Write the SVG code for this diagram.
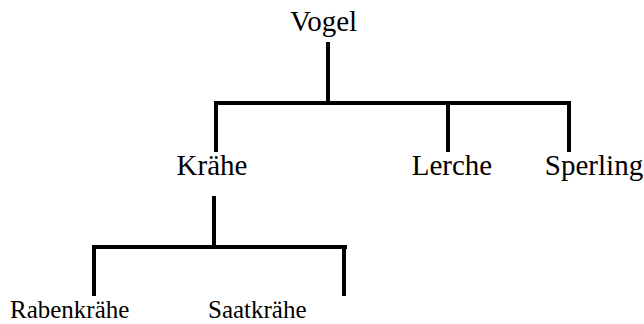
<svg xmlns="http://www.w3.org/2000/svg" width="644" height="324" viewBox="0 0 644 324">
<style>
.t{font-family:'Liberation Serif','Times New Roman','DejaVu Serif',serif;fill:#000}
.big{font-size:29px}
.small{font-size:25px}
.c line{stroke:#000;stroke-width:4;stroke-linecap:square}
</style>
<rect width="644" height="324" fill="#fff"/>
<g class="c" id="connectors">
<line x1="328" y1="44" x2="328" y2="103"/>
<line x1="216" y1="103" x2="569" y2="103"/>
<line x1="216" y1="103" x2="216" y2="150"/>
<line x1="448" y1="103" x2="448" y2="150"/>
<line x1="569" y1="103" x2="569" y2="150"/>
<line x1="214" y1="198" x2="214" y2="247"/>
<line x1="94" y1="247" x2="345" y2="247"/>
<line x1="94" y1="247" x2="94" y2="294"/>
<line x1="344" y1="247" x2="344" y2="294"/>
</g>
<g id="vogel"><text class="t big" x="323.5" y="31" text-anchor="middle">Vogel</text></g>
<g id="kraehe"><text class="t big" x="212" y="175" text-anchor="middle">Krähe</text></g>
<g id="lerche"><text class="t big" x="452" y="175" text-anchor="middle">Lerche</text></g>
<g id="sperling"><text class="t big" x="594" y="175" text-anchor="middle">Sperling</text></g>
<g id="rabenkraehe"><text class="t small" x="10" y="318">Rabenkrähe</text></g>
<g id="saatkraehe"><text class="t small" x="208" y="318">Saatkrähe</text></g>
</svg>
